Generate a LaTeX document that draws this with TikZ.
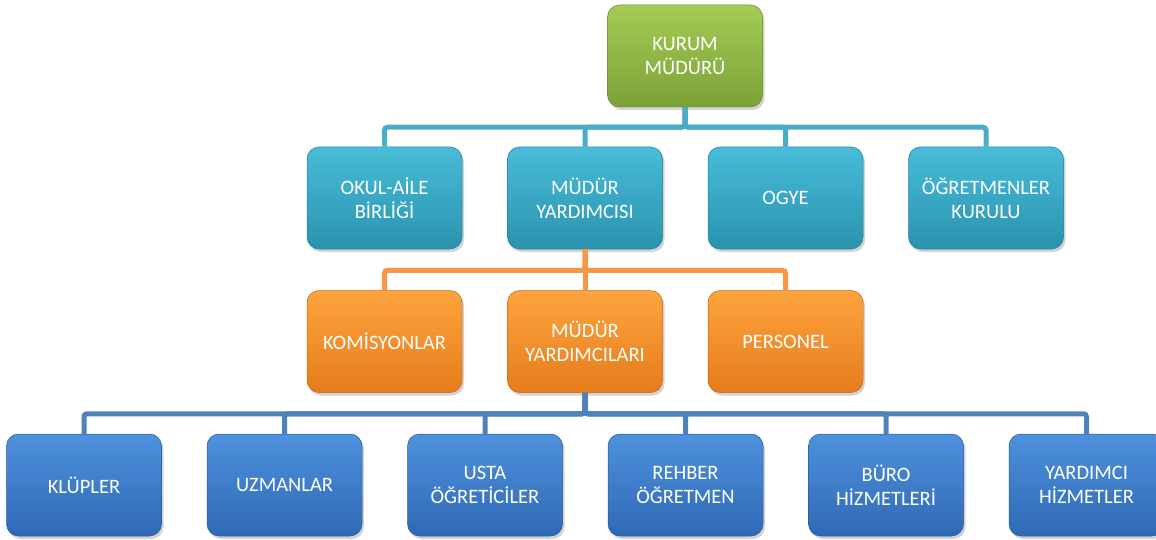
\documentclass[tikz,border=0pt]{standalone}
\usepackage{fontspec}
\setmainfont{Carlito}
\usetikzlibrary{positioning,shadows}

\definecolor{yesilA}{HTML}{A3CB55}
\definecolor{yesilB}{HTML}{7CA236}
\definecolor{camgobA}{HTML}{48BCD8}
\definecolor{camgobB}{HTML}{2A93AF}
\definecolor{turuncuA}{HTML}{FCA43E}
\definecolor{turuncuB}{HTML}{E77C1C}
\definecolor{maviA}{HTML}{4E91DC}
\definecolor{maviB}{HTML}{2F69B6}
\definecolor{camgobCizgi}{HTML}{4BACC6}
\definecolor{turuncuCizgi}{HTML}{F79646}
\definecolor{maviCizgi}{HTML}{4F81BD}

\begin{document}
\begin{tikzpicture}[x=1pt, y=-1pt,
      node distance=41pt and 45pt,
      mybox/.style={rounded corners=12pt, minimum width=155pt, minimum height=102pt,
        inner sep=0pt, align=center, text=white,
        font=\fontsize{20.5}{24}\selectfont,
        drop shadow={shadow xshift=2pt, shadow yshift=-3pt, opacity=.35}},
      yesilbox/.style={mybox, top color=yesilA, bottom color=yesilB, draw=yesilB!85!black, line width=.5pt},
      camgobbox/.style={mybox, top color=camgobA, bottom color=camgobB, draw=camgobB!85!black, line width=.5pt},
      turuncubox/.style={mybox, top color=turuncuA, bottom color=turuncuB, draw=turuncuB!85!black, line width=.5pt},
      mavibox/.style={mybox, top color=maviA, bottom color=maviB, draw=maviB!85!black, line width=.5pt},
      hat/.style={line width=5pt, rounded corners=3pt}
    ]
        \useasboundingbox (0,0) rectangle (1156,540);
        \node[yesilbox] (kurum) at (685,56) {KURUM\\MÜDÜRÜ};
        \node[camgobbox] (myrd) at (585,198) {MÜDÜR\\YARDIMCISI};
        \node[camgobbox, left=of myrd] (okul) {OKUL-AİLE\\BİRLİĞİ};
        \node[camgobbox, right=of myrd] (ogye) {OGYE};
        \node[camgobbox, right=of ogye] (ogrkur) {ÖĞRETMENLER\\KURULU};
        \node[turuncubox, below=of myrd] (myrdlar) {MÜDÜR\\YARDIMCILARI};
        \node[turuncubox, left=of myrdlar] (komis) {KOMİSYONLAR};
        \node[turuncubox, right=of myrdlar] (pers) {PERSONEL};
        \node[mavibox, below=of myrdlar, xshift=-100pt] (usta) {USTA\\ÖĞRETİCİLER};
        \node[mavibox, left=of usta] (uzman) {UZMANLAR};
        \node[mavibox, left=of uzman] (klup) {KLÜPLER};
        \node[mavibox, right=of usta] (rehber) {REHBER\\ÖĞRETMEN};
        \node[mavibox, right=of rehber] (buro) {BÜRO\\HİZMETLERİ};
        \node[mavibox, right=of buro] (yrdhiz) {YARDIMCI\\HİZMETLER};
        % baglantilar
        \foreach \n in {okul,myrd,ogye,ogrkur}
          \draw[hat, camgobCizgi] (kurum.south) -- ++(0,20) -| (\n.north);
        \foreach \n in {komis,myrdlar,pers}
          \draw[hat, turuncuCizgi] (myrd.south) -- ++(0,21) -| (\n.north);
        \foreach \n in {klup,uzman,usta,rehber,buro,yrdhiz}
          \draw[hat, maviCizgi] (myrdlar.south) -- ++(0,21) -| (\n.north);
    \end{tikzpicture}
\end{document}
